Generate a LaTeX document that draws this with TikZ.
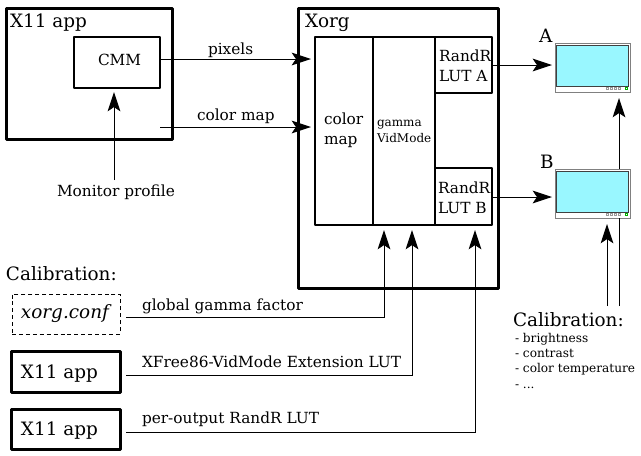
\documentclass[tikz,border=0pt]{standalone}
\usepackage{fontspec}
\setmainfont{DejaVu Serif}
\usetikzlibrary{arrows.meta}
\tikzset{
  x=0.75pt,y=-0.75pt,
  heavybox/.style={draw=black,line width=2.25pt,line join=round},
  midbox/.style={draw=black,line width=1.5pt,line join=round},
  dashbox/.style={draw=black,line width=0.75pt,dash pattern=on 3pt off 2.2pt},
  conn/.style={draw=black,line width=0.75pt,line join=miter},
  flow/.style={conn,-{Stealth[length=14.5pt,width=9.5pt,inset=3.2pt]}},
  lab/.style={anchor=base west,inner sep=0pt,outer sep=0pt,align=left},
  bigt/.style={lab,font=\fontsize{13.8}{16}\selectfont},
  medt/.style={lab,font=\fontsize{11.5}{14.4}\selectfont},
  smallt/.style={lab,font=\fontsize{9}{11.5}\selectfont},
  listt/.style={lab,font=\fontsize{9.1}{11.5}\selectfont},
  bezel/.style={draw=black!50,fill=white,line width=0.7pt},
  screen/.style={draw=black!75,line width=0.7pt},
  led/.style={draw=black!40,line width=0.3pt,inner sep=0pt,minimum size=1.4pt},
}
\definecolor{scr}{RGB}{153,247,255}
\newcommand{\pxbox}[6]{\node[#1,inner sep=0pt,outer sep=0pt,
  minimum width={((#5)-(#3))*0.75pt},minimum height={((#6)-(#4))*0.75pt}]
  (#2) at ({((#3)+(#5))/2},{((#4)+(#6))/2}) {};}
\newcommand{\monitor}[2]{%
  \pxbox{bezel}{#1}{555}{#2}{630}{#2+49}
  \pxbox{screen,fill=scr}{#1s}{556.5}{#2+2}{628.5}{#2+43}
  \foreach \i in {0,1,2,3}{\node[led] (#1l\i) at ({607+\i*4},{#2+45.5}) {};}
  \node[led,draw=green!70!black] (#1g) at (626,{#2+45.5}) {};}
\begin{document}
\begin{tikzpicture}
\useasboundingbox (0,0) rectangle (641,455);
% X11 app
\pxbox{heavybox}{app}{6}{8}{172}{139}
\pxbox{midbox}{cmm}{74}{37}{160}{88}
\node[bigt] (apptxt) at (10,27) {X11 app};
\node[medt] (cmmtxt) at (98,65) {CMM};
% Xorg
\pxbox{heavybox}{xorg}{298}{8}{498}{288}
\node[bigt] (xorgtxt) at (305,27) {Xorg};
\pxbox{midbox}{cmap}{315}{37}{373}{225}
\pxbox{midbox}{gam}{373}{37}{435}{225}
\pxbox{midbox}{lutA}{435}{37}{492}{93}
\pxbox{midbox}{lutB}{435}{168}{492}{225}
\node[medt] (cmaptxt) at (324,144) {color\\map};
\node[smallt] (gamtxt) at (377,142) {gamma\\VidMode};
\node[medt] (ltxtA) at (439,81) {RandR\\LUT A};
\node[medt] (ltxtB) at (438,213) {RandR\\LUT B};
% Monitors
\monitor{monA}{43}
\monitor{monB}{169}
\node[bigt] (atxt) at (539,42) {A};
\node[bigt] (btxt) at (540,168) {B};
% Top connectors
\coordinate (pixin) at (311,59);
\coordinate (cmin) at (311,127);
\coordinate (cmout) at (160,127);
\draw[flow] (cmm.east |- pixin) -- (pixin);
\draw[flow] (cmout) -- (cmin);
\node[medt] (pixtxt) at (208,54) {pixels};
\node[medt] (cmtxt) at (197,120) {color map};
\node[medt] (mptxt) at (57,196) {Monitor profile};
\coordinate (mptop) at (114,92);
\coordinate (mpbot) at (114,180);
\draw[flow] (mpbot) -- (mptop);
% outputs
\coordinate (inA) at (552,65);
\coordinate (inB) at (552,197);
\coordinate (outA) at (492,65);
\coordinate (outB) at (492,197);
\draw[flow] (outA) -- (inA);
\draw[flow] (outB) -- (inB);
\coordinate (upA) at (619,98);
\coordinate (upB) at (619,169);
\draw[flow] (upB) -- (upA);
% monitor calibration
\coordinate (calL) at (607,306);
\coordinate (calT) at (607,224);
\coordinate (calR) at (619,306);
\coordinate (calB) at (619,218);
\draw[flow] (calL) -- (calT);
\draw[conn] (calR) -- (calB);
\node[bigt] (cal2) at (513,326) {Calibration:};
\node[listt] (cal2l) at (515,388) {- brightness\\- contrast\\- color temperature\\- ...};
% Calibration left
\node[bigt] (cal1) at (6,280) {Calibration:};
\pxbox{dashbox}{conf}{12}{294}{120}{334}
\pxbox{heavybox}{appa}{11}{351}{120}{392}
\pxbox{heavybox}{appb}{11}{409}{120}{449}
\node[bigt,font=\fontsize{13.8}{16}\selectfont\itshape] (conftxt) at (21,318) {xorg.conf};
\node[bigt] (appatxt) at (21,378) {X11 app};
\node[bigt] (appbtxt) at (21,435) {X11 app};
\coordinate (s1) at (126,317);
\coordinate (s2) at (126,375);
\coordinate (s3) at (126,432);
\coordinate (t1) at (384,230);
\coordinate (t2) at (412,230);
\coordinate (t3) at (475,230);
\draw[flow] (s1) -- (t1 |- s1) -- (t1);
\draw[flow] (s2) -- (t2 |- s2) -- (t2);
\draw[flow] (s3) -- (t3 |- s3) -- (t3);
\node[medt] (gtxt) at (142,310) {global gamma factor};
\node[medt] (xtxt) at (142,367) {XFree86-VidMode Extension LUT};
\node[medt] (ptxt) at (142,423) {per-output RandR LUT};
\end{tikzpicture}
\end{document}
